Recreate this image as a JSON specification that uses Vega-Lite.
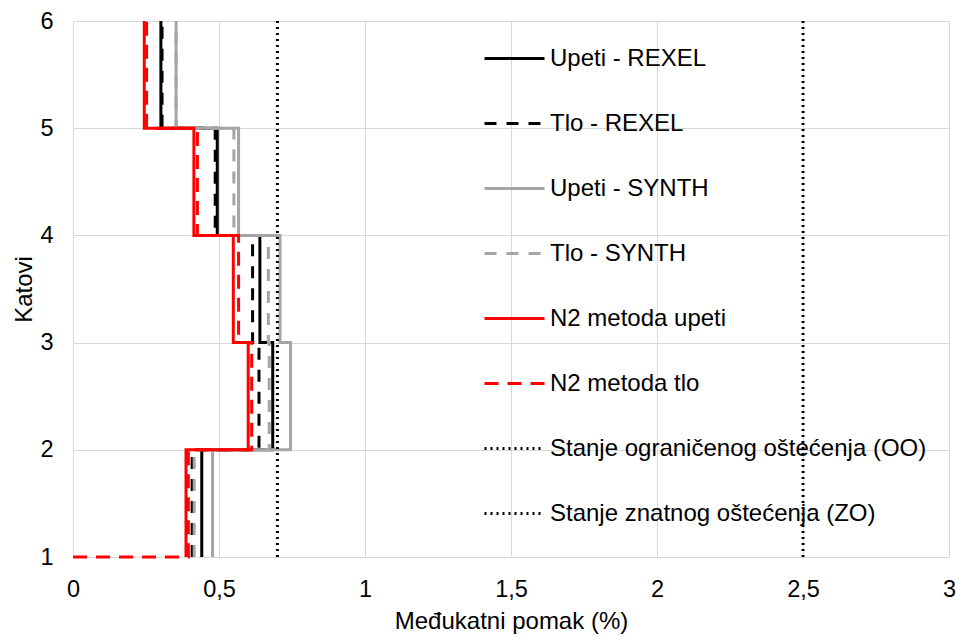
{
  "$schema": "https://vega.github.io/schema/vega-lite/v6.json",
  "width": 876,
  "height": 536,
  "autosize": {"type": "none"},
  "padding": {"left": 73, "top": 21, "right": 7, "bottom": 78},
  "background": "white",
  "config": {
    "font": "Liberation Sans",
    "view": {"stroke": null},
    "axis": {"labelFont": "Liberation Sans", "titleFont": "Liberation Sans", "labelColor": "#000000", "titleColor": "#000000", "titleFontWeight": "normal", "gridColor": "#D9D9D9", "domainColor": "#D9D9D9", "ticks": false}
  },
  "data": {
    "values": [
      {"s": "Upeti - REXEL", "d": 0.441, "kat": 1},
      {"s": "Upeti - REXEL", "d": 0.684, "kat": 2},
      {"s": "Upeti - REXEL", "d": 0.640, "kat": 3},
      {"s": "Upeti - REXEL", "d": 0.494, "kat": 4},
      {"s": "Upeti - REXEL", "d": 0.301, "kat": 5},
      {"s": "Upeti - REXEL", "d": 0.301, "kat": 6},
      {"s": "Tlo - REXEL", "d": 0.408, "kat": 1},
      {"s": "Tlo - REXEL", "d": 0.637, "kat": 2},
      {"s": "Tlo - REXEL", "d": 0.615, "kat": 3},
      {"s": "Tlo - REXEL", "d": 0.487, "kat": 4},
      {"s": "Tlo - REXEL", "d": 0.305, "kat": 5},
      {"s": "Tlo - REXEL", "d": 0.305, "kat": 6},
      {"s": "Upeti - SYNTH", "d": 0.478, "kat": 1},
      {"s": "Upeti - SYNTH", "d": 0.745, "kat": 2},
      {"s": "Upeti - SYNTH", "d": 0.709, "kat": 3},
      {"s": "Upeti - SYNTH", "d": 0.567, "kat": 4},
      {"s": "Upeti - SYNTH", "d": 0.353, "kat": 5},
      {"s": "Upeti - SYNTH", "d": 0.353, "kat": 6},
      {"s": "Tlo - SYNTH", "d": 0.415, "kat": 1},
      {"s": "Tlo - SYNTH", "d": 0.672, "kat": 2},
      {"s": "Tlo - SYNTH", "d": 0.669, "kat": 3},
      {"s": "Tlo - SYNTH", "d": 0.551, "kat": 4},
      {"s": "Tlo - SYNTH", "d": 0.353, "kat": 5},
      {"s": "Tlo - SYNTH", "d": 0.353, "kat": 6},
      {"s": "N2 metoda upeti", "d": 0.387, "kat": 1},
      {"s": "N2 metoda upeti", "d": 0.600, "kat": 2},
      {"s": "N2 metoda upeti", "d": 0.549, "kat": 3},
      {"s": "N2 metoda upeti", "d": 0.414, "kat": 4},
      {"s": "N2 metoda upeti", "d": 0.244, "kat": 5},
      {"s": "N2 metoda upeti", "d": 0.244, "kat": 6},
      {"s": "N2 metoda tlo", "d": 0.0, "kat": 1},
      {"s": "N2 metoda tlo", "d": 0.395, "kat": 1},
      {"s": "N2 metoda tlo", "d": 0.612, "kat": 2},
      {"s": "N2 metoda tlo", "d": 0.567, "kat": 3},
      {"s": "N2 metoda tlo", "d": 0.426, "kat": 4},
      {"s": "N2 metoda tlo", "d": 0.252, "kat": 5},
      {"s": "N2 metoda tlo", "d": 0.252, "kat": 6},
      {"s": "Stanje ograničenog oštećenja (OO)", "d": 0.7, "kat": 1},
      {"s": "Stanje ograničenog oštećenja (OO)", "d": 0.7, "kat": 6},
      {"s": "Stanje znatnog oštećenja (ZO)", "d": 2.5, "kat": 1},
      {"s": "Stanje znatnog oštećenja (ZO)", "d": 2.5, "kat": 6}
    ]
  },
  "mark": {"type": "line", "interpolate": "step-before", "clip": false},
  "encoding": {
    "x": {
      "field": "d", "type": "quantitative",
      "scale": {"domain": [0, 3], "nice": false},
      "axis": {"values": [0, 0.5, 1, 1.5, 2, 2.5, 3], "labelExpr": "replace(toString(datum.value), '.', ',')", "labelFlush": false, "labelFontSize": 23.5, "labelPadding": 20, "title": "Međukatni pomak (%)", "titleFontSize": 24, "titleX": 438, "titleY": 71, "titleBaseline": "alphabetic", "titleAnchor": "middle", "titleAlign": "center", "grid": true}
    },
    "y": {
      "field": "kat", "type": "quantitative",
      "scale": {"domain": [1, 6], "nice": false, "zero": false},
      "axis": {"values": [1, 2, 3, 4, 5, 6], "labelFontSize": 23.5, "labelPadding": 20, "labelFlush": false, "title": "Katovi", "titleFontSize": 24, "titleX": -42, "titleY": 268, "titleBaseline": "alphabetic", "titleAlign": "center", "titleAngle": -90, "grid": true}
    },
    "order": {"field": "kat"},
    "color": {
      "field": "s", "type": "nominal",
      "scale": {
        "domain": ["Upeti - REXEL", "Tlo - REXEL", "Upeti - SYNTH", "Tlo - SYNTH", "N2 metoda upeti", "N2 metoda tlo", "Stanje ograničenog oštećenja (OO)", "Stanje znatnog oštećenja (ZO)"],
        "range": ["#000000", "#000000", "#A5A5A5", "#A5A5A5", "#FF0000", "#FF0000", "#000000", "#000000"]
      },
      "legend": {
        "title": null, "orient": "none", "legendX": 410, "legendY": 6, "padding": 0,
        "symbolType": "stroke", "symbolSize": 3600, "labelFontSize": 24, "labelFont": "Liberation Sans", "labelColor": "#000000", "labelOffset": 4, "rowPadding": 21, "labelLimit": 500
      }
    },
    "strokeDash": {
      "field": "s", "type": "nominal",
      "scale": {
        "domain": ["Upeti - REXEL", "Tlo - REXEL", "Upeti - SYNTH", "Tlo - SYNTH", "N2 metoda upeti", "N2 metoda tlo", "Stanje ograničenog oštećenja (OO)", "Stanje znatnog oštećenja (ZO)"],
        "range": [[1, 0], [12, 10], [1, 0], [12, 10], [1, 0], [14, 9], [2, 4], [2, 4]]
      },
      "legend": {"title": null}
    },
    "strokeWidth": {
      "field": "s", "type": "nominal",
      "scale": {
        "domain": ["Upeti - REXEL", "Tlo - REXEL", "Upeti - SYNTH", "Tlo - SYNTH", "N2 metoda upeti", "N2 metoda tlo", "Stanje ograničenog oštećenja (OO)", "Stanje znatnog oštećenja (ZO)"],
        "range": [3, 3, 3, 3, 3, 3, 2.2, 2.2]
      },
      "legend": {"title": null}
    }
  }
}
